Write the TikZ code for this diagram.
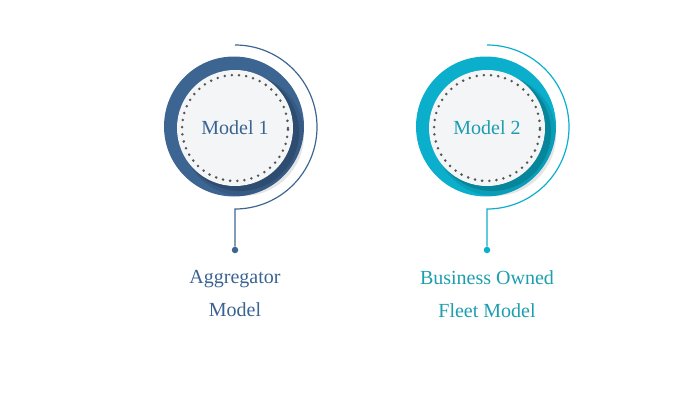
\documentclass[tikz,border=0pt]{standalone}
\usepackage{fontspec}
\setmainfont{Liberation Serif}
\definecolor{modelblue}{HTML}{3D6592}
\definecolor{modelcyan}{HTML}{0BAFCC}
\definecolor{textblue}{HTML}{3A6391}
\definecolor{textcyan}{HTML}{1C9EAE}
\definecolor{discgray}{HTML}{F4F5F7}
\definecolor{dotgray}{HTML}{555555}
\tikzset{
  ring/.style={circle, minimum size=140pt, inner sep=0pt},
  disc/.style={circle, fill=discgray, minimum size=116pt, inner sep=0pt, font=\fontsize{20}{24}\selectfont},
  dotring/.style={circle, draw=dotgray, line width=2.8pt, dash pattern=on 0pt off 7.2pt, line cap=round, minimum size=106pt, inner sep=0pt},
  pin/.style={circle, minimum size=6.5pt, inner sep=0pt},
  caption/.style={align=center, font=\fontsize{20}{33}\selectfont}
}
\begin{document}
\begin{tikzpicture}[x=1pt, y=1pt]
    \useasboundingbox (0,0) rectangle (700,400);

    % Model 1
    \node[ring, fill=modelblue] (R1) at (234, 273.5) {};
    \fill[black, opacity=0.10] (243, 265) circle (61pt);
    \fill[black, opacity=0.15] (240, 268) circle (59pt);
    \node[disc, text=textblue] (C1) at (235, 272) {Model 1};
    \node[dotring] (D1) at (235, 272) {};
    \coordinate (T1) at (235, 355);
    \node[pin, fill=modelblue] (P1) at (235, 150) {};
    \node[caption, text=textblue, anchor=north] (L1) at (235, 133) {Aggregator\\Model};

    % Model 2
    \node[ring, fill=modelcyan] (R2) at (486, 273.5) {};
    \fill[black, opacity=0.10] (495, 265) circle (61pt);
    \fill[black, opacity=0.15] (492, 268) circle (59pt);
    \node[disc, text=textcyan] (C2) at (487, 272) {Model 2};
    \node[dotring] (D2) at (487, 272) {};
    \coordinate (T2) at (487, 355);
    \node[pin, fill=modelcyan] (P2) at (487, 150) {};
    \node[caption, text=textcyan, anchor=north] (L2) at (487, 133) {Business Owned\\Fleet Model};

    % Arcs
    \draw[modelblue, line width=1.2pt] (T1) arc[start angle=90, end angle=-90, radius=82pt] -- (P1);
    \draw[modelcyan, line width=1.2pt] (T2) arc[start angle=90, end angle=-90, radius=82pt] -- (P2);

\end{tikzpicture}
\end{document}
